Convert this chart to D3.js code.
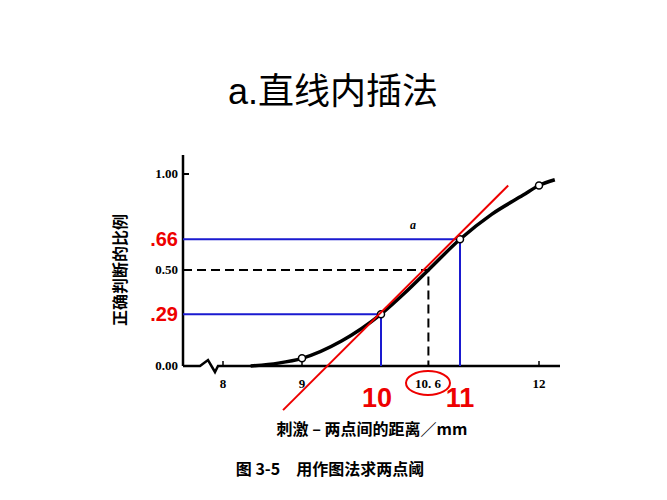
<!DOCTYPE html><html><head><meta charset="utf-8"><script src="https://d3js.org/d3.v7.min.js"></script>
<style>body{margin:0;background:#fff}</style></head><body><svg id="c" width="667" height="500"></svg>
<script>
const curveX = [8.35, 8.7, 9.0, 9.5, 10.0, 10.3, 10.6, 11.0, 11.4, 11.8, 12.0, 12.2];
const curveY = [0.0, 0.015, 0.04, 0.13, 0.27, 0.38, 0.50, 0.66, 0.79, 0.89, 0.94, 0.97];
const markX = [9, 10, 11, 12];
const markY = [0.04, 0.27, 0.66, 0.94];
const xTicks = [8, 9, 12];
const xTickLabels = ["8", "9", "12"];
const yTicks = [0, 0.5, 1];
const yTickLabels = ["0.00", "0.50", "1.00"];
const blueX = [10, 11], blueY = [0.27, 0.66], blueLabels = [".29", ".66"], blueXLabels = ["10", "11"];
const tangentX = [8.76, 11.61], tangentY = [-0.23, 0.94];

const svg = d3.select("#c");
const x = d3.scaleLinear().domain([8, 12]).range([223, 539]);
const y = d3.scaleLinear().domain([0, 1]).range([366, 174]);
const serif = "'Liberation Serif','DejaVu Serif',serif";
const cjk = "'Noto Sans CJK SC',sans-serif";

svg.append("text").attr("x", 333).attr("y", 104).attr("text-anchor", "middle")
  .attr("font-family", "'Liberation Sans','Noto Sans CJK SC',sans-serif").attr("font-size", 36).text("a.直线内插法");

svg.append("line").attr("x1", 183).attr("x2", 183).attr("y1", 155).attr("y2", 366).attr("stroke", "#000").attr("stroke-width", 2.5);
svg.append("path").attr("d", `M183,366 H200 L208,360 L215,372 L218,366 H560`).attr("fill", "none").attr("stroke", "#000").attr("stroke-width", 2.5);
yTicks.forEach((t, i) => {
  svg.append("line").attr("x1", 183).attr("x2", 189).attr("y1", y(t)).attr("y2", y(t)).attr("stroke", "#000").attr("stroke-width", 2);
  svg.append("text").attr("x", 178).attr("y", y(t) + 4).attr("text-anchor", "end").attr("font-family", serif).attr("font-size", 13).attr("font-weight", "bold").text(yTickLabels[i]);
});
xTicks.forEach((t, i) => {
  svg.append("line").attr("x1", x(t)).attr("x2", x(t)).attr("y1", 366).attr("y2", 361).attr("stroke", "#000").attr("stroke-width", 1.5);
  svg.append("text").attr("x", x(t)).attr("y", 388).attr("text-anchor", "middle").attr("font-family", serif).attr("font-size", 13).attr("font-weight", "bold").text(xTickLabels[i]);
});
svg.append("text").attr("x", 428).attr("y", 388).attr("text-anchor", "middle").attr("font-family", serif).attr("font-size", 13).attr("font-weight", "bold").text("10. 6");
svg.append("ellipse").attr("cx", 428).attr("cy", 383).attr("rx", 22).attr("ry", 12).attr("fill", "none").attr("stroke", "#e00").attr("stroke-width", 2);

svg.append("path").attr("d", `M${183},${y(0.5)} H${x(10.6)} V366`).attr("fill", "none").attr("stroke", "#000").attr("stroke-width", 2).attr("stroke-dasharray", "9,5");
blueX.forEach((bx, i) => {
  svg.append("path").attr("d", `M183,${y(blueY[i])} H${x(bx)} V366`).attr("fill", "none").attr("stroke", "#1a1ad0").attr("stroke-width", 2);
  svg.append("text").attr("x", 178).attr("y", y(blueY[i]) + 7).attr("text-anchor", "end").attr("font-family", "'Liberation Sans',sans-serif").attr("font-weight", "bold").attr("font-size", 20).attr("fill", "#e00").text(blueLabels[i]);
  svg.append("text").attr("x", x(bx) + (i ? 0 : -4)).attr("y", 407).attr("text-anchor", "middle").attr("font-family", "'Liberation Sans',sans-serif").attr("font-weight", "bold").attr("font-size", 27).attr("fill", "#e00").text(blueXLabels[i]);
});
const pts = curveX.map((d, i) => [x(d), y(curveY[i])]);
svg.append("path").attr("d", d3.line().curve(d3.curveMonotoneX)(pts)).attr("fill", "none").attr("stroke", "#000").attr("stroke-width", 3.5);
markX.forEach((m, i) => svg.append("circle").attr("cx", x(m)).attr("cy", y(markY[i])).attr("r", 3.5).attr("fill", "#fff").attr("stroke", "#000").attr("stroke-width", 1.5));
svg.append("line").attr("x1", x(tangentX[0])).attr("y1", y(tangentY[0])).attr("x2", x(tangentX[1])).attr("y2", y(tangentY[1])).attr("stroke", "#e00").attr("stroke-width", 2);

svg.append("text").attr("x", 413).attr("y", 229).attr("text-anchor", "middle").attr("font-family", serif).attr("font-style", "italic").attr("font-weight", "bold").attr("font-size", 12).text("a");
svg.append("text").attr("transform", "translate(126,270) rotate(-90)").attr("text-anchor", "middle").attr("font-family", cjk).attr("font-weight", "bold").attr("font-size", 16).text("正确判断的比例");
svg.append("text").attr("x", 372).attr("y", 435).attr("text-anchor", "middle").attr("font-family", cjk).attr("font-weight", "bold").attr("font-size", 16).text("刺激 – 两点间的距离／mm");
svg.append("text").attr("x", 330).attr("y", 475).attr("text-anchor", "middle").attr("font-family", cjk).attr("font-weight", "bold").attr("font-size", 16).text("图 3-5　用作图法求两点阈");
</script></body></html>
